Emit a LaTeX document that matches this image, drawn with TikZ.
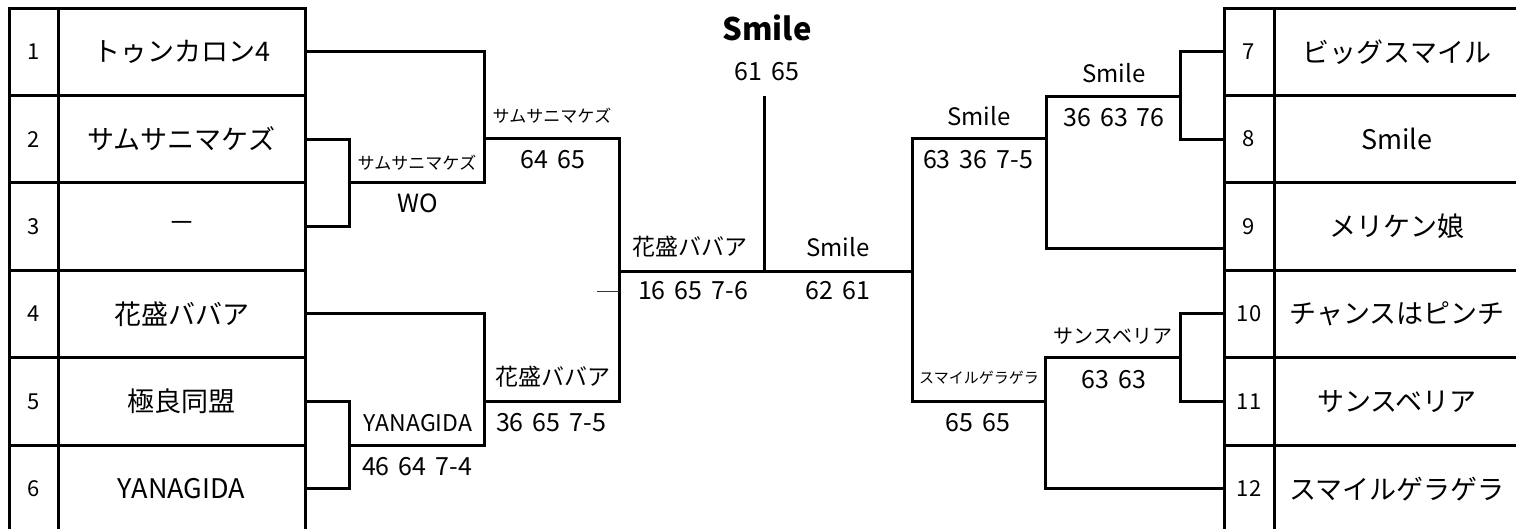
\documentclass[tikz,border=0pt]{standalone}
\usepackage{fontspec}
\setmainfont{Noto Sans CJK JP}[WordSpace=1.6]
\usetikzlibrary{positioning, calc}
\newcommand{\fsz}[1]{\fontsize{#1}{#1}\selectfont}
\tikzstyle{numcell} = [rectangle, draw=black, line width=3pt, inner sep=0pt, outer sep=0pt, minimum width=49pt, minimum height=87.4pt, font=\fsz{22}]
\tikzstyle{namecell} = [rectangle, draw=black, line width=3pt, inner sep=0pt, outer sep=0pt, minimum width=247pt, minimum height=87.4pt, font=\fsz{27}]
\tikzstyle{wire} = [line width=3pt]
\tikzstyle{winner} = [inner sep=0pt, font=\fsz{24}]
\tikzstyle{score} = [inner sep=0pt, font=\fsz{25}]

\begin{document}
\begin{tikzpicture}[x=1pt, y=-1pt]
    \useasboundingbox (0,0) rectangle (1516,528);

    % Left table
    \node (n1) [numcell, anchor=north west] at (9,8) {1};
    \node (t1) [namecell, right=0pt of n1] {トゥンカロン4};
    \node (n2) [numcell, below=0pt of n1] {2};
    \node (t2) [namecell, right=0pt of n2] {サムサニマケズ};
    \node (n3) [numcell, below=0pt of n2] {3};
    \node (t3) [namecell, right=0pt of n3] {－};
    \node (n4) [numcell, below=0pt of n3] {4};
    \node (t4) [namecell, right=0pt of n4] {花盛ババア};
    \node (n5) [numcell, below=0pt of n4] {5};
    \node (t5) [namecell, right=0pt of n5] {極良同盟};
    \node (n6) [numcell, below=0pt of n5] {6};
    \node (t6) [namecell, right=0pt of n6] {YANAGIDA};

    % Right table
    \node (n7) [numcell, minimum width=50pt, anchor=north west] at (1224,8) {7};
    \node (t7) [namecell, minimum width=246pt, right=0pt of n7] {ビッグスマイル};
    \node (n8) [numcell, minimum width=50pt, below=0pt of n7] {8};
    \node (t8) [namecell, minimum width=246pt, right=0pt of n8] {Smile};
    \node (n9) [numcell, minimum width=50pt, below=0pt of n8] {9};
    \node (t9) [namecell, minimum width=246pt, right=0pt of n9] {メリケン娘};
    \node (n10) [numcell, minimum width=50pt, below=0pt of n9] {10};
    \node (t10) [namecell, minimum width=246pt, right=0pt of n10] {チャンスはピンチ};
    \node (n11) [numcell, minimum width=50pt, below=0pt of n10] {11};
    \node (t11) [namecell, minimum width=246pt, right=0pt of n11] {サンスベリア};
    \node (n12) [numcell, minimum width=50pt, below=0pt of n11] {12};
    \node (t12) [namecell, minimum width=246pt, right=0pt of n12] {スマイルゲラゲラ};

    % Joints
    \coordinate (mA) at (349,182);
    \coordinate (mB) at (484,138);
    \coordinate (mC) at (349,445);
    \coordinate (mD) at (484,401);
    \coordinate (mE) at (619,271);
    \coordinate (mF) at (764,271);
    \coordinate (top) at (764,96);
    \coordinate (mG) at (912,271);
    \coordinate (mH) at (1180,96);
    \coordinate (mI) at (1046,138);
    \coordinate (mJ) at (1180,357);
    \coordinate (mK) at (1045,401);
    \coordinate (c9) at ($(n9.west)+(0,-21.5pt)$);
    \coordinate (stub) at (597,291);

    % Results
    \node (champ) [winner, font={\fsz{31}\bfseries}] at (767,28) {Smile};
    \node (sF) [score] at (767,72) {61 65};
    \node (wA) [winner, font=\fsz{17}] at (417,163) {サムサニマケズ};
    \node (sA) [score] at (418,203) {WO};
    \node (wB) [winner, font=\fsz{17}] at (552,116) {サムサニマケズ};
    \node (sB) [score] at (553,160) {64 65};
    \node (wC) [winner, font=\fsz{23}] at (418,423) {YANAGIDA};
    \node (sC) [score] at (417,467) {46 64 7-4};
    \node (wD) [winner, font=\fsz{23}] at (553,377) {花盛ババア};
    \node (sD) [score] at (551,423) {36 65 7-5};
    \node (wE) [winner, font=\fsz{23}] at (690,247) {花盛ババア};
    \node (sE) [score] at (693,291) {16 65 7-6};
    \node (wG) [winner] at (838,247) {Smile};
    \node (sG) [score] at (838,291) {62 61};
    \node (wI) [winner] at (979,116) {Smile};
    \node (sI) [score] at (978,160) {63 36 7-5};
    \node (wH) [winner] at (1114,73) {Smile};
    \node (sH) [score] at (1114,118) {36 63 76};
    \node (wJ) [winner, font=\fsz{20}] at (1113,336) {サンスベリア};
    \node (sJ) [score] at (1114,380) {63 63};
    \node (wK) [winner, font=\fsz{15}] at (979,378) {スマイルゲラゲラ};
    \node (sK) [score] at (978,423) {65 65};

    % Left bracket
    \draw [wire] (t2.east) -| (mA) |- (t3.east);
    \draw [wire] (t1.east) -| (mB);
    \draw [wire] (mA) -| (mB);
    \draw [wire] (t5.east) -| (mC) |- (t6.east);
    \draw [wire] (t4.east) -| (mD);
    \draw [wire] (mC) -| (mD);
    \draw [wire] (mB) -| (mE);
    \draw [wire] (mD) -| (mE);
    \draw [line width=0.8pt, black!80] (stub) -- (stub -| mE);

    % Final
    \draw [wire] (mE) -- (mG);
    \draw [wire] (mF) -- (top);

    % Right bracket
    \draw [wire] (n7.west) -| (mH) |- (n8.west);
    \draw [wire] (mH) -| (mI);
    \draw [wire] (c9) -| (mI);
    \draw [wire] (n10.west) -| (mJ) |- (n11.west);
    \draw [wire] (mJ) -| (mK);
    \draw [wire] (n12.west) -| (mK);
    \draw [wire] (mI) -| (mG);
    \draw [wire] (mK) -| (mG);
\end{tikzpicture}
\end{document}
